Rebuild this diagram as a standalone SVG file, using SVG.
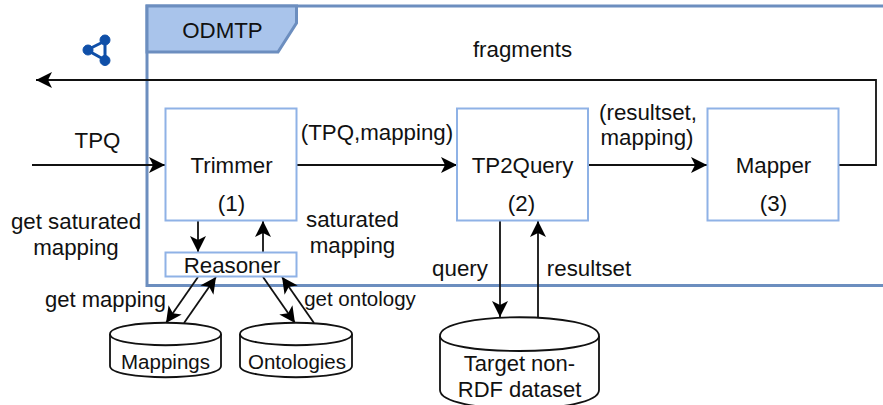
<svg xmlns="http://www.w3.org/2000/svg" width="883" height="405" viewBox="0 0 883 405">
<style>
text{font-family:"Liberation Sans",Arial,sans-serif;font-size:22.300px;fill:#111;text-anchor:middle}
.box{fill:#fff;stroke:#8fb2e6;stroke-width:2}
.db{fill:#fff;stroke:#111;stroke-width:1.800}
.c{fill:none;stroke:#111;stroke-width:1.800}
.small{font-size:20.500px}
.mid{font-size:22px}
</style>
<defs>
<marker id="a" markerUnits="userSpaceOnUse" markerWidth="18" markerHeight="18" refX="16" refY="8" orient="auto">
<path d="M0 0L16 8L0 16L4 8Z" fill="#000"/>
</marker>
</defs>
<g id="odmtp">
<rect x="147" y="6" width="745" height="279.500" fill="#fff" stroke="#6c8ebf" stroke-width="3"/>
<path d="M147 6H296.500V23L278 52H147Z" fill="#a9c4eb" stroke="#6c8ebf" stroke-width="3"/>
<text x="222.500" y="38">ODMTP</text>
</g>
<g id="logo" fill="#0f4fa8" stroke="#0f4fa8">
<path d="M105 41L87 50L105 60Z" fill="none" stroke-width="3"/>
<circle cx="105" cy="40" r="5"/>
<circle cx="88" cy="50" r="5"/>
<circle cx="105" cy="60.500" r="5"/>
</g>
<g id="connectors">
<path class="c" d="M838 165H876V80H36" marker-end="url(#a)"/>
<path class="c" d="M32 165H165" marker-end="url(#a)"/>
<path class="c" d="M296 165H457" marker-end="url(#a)"/>
<path class="c" d="M588 165H707" marker-end="url(#a)"/>
<path class="c" d="M198 221V252" marker-end="url(#a)"/>
<path class="c" d="M263 252V221" marker-end="url(#a)"/>
<path class="c" d="M198 277L166 323" marker-end="url(#a)"/>
<path class="c" d="M184 323L216 277" marker-end="url(#a)"/>
<path class="c" d="M263 277L295 323" marker-end="url(#a)"/>
<path class="c" d="M314 323L282 277" marker-end="url(#a)"/>
<path class="c" d="M500 221V317" marker-end="url(#a)"/>
<path class="c" d="M538 317V221" marker-end="url(#a)"/>
</g>
<g id="trimmer"><rect class="box" x="165.500" y="108.500" width="131" height="112"/><text x="231.500" y="173">Trimmer</text><text x="231.500" y="211">(1)</text></g>
<g id="tp2query"><rect class="box" x="457" y="108.500" width="131" height="112"/><text x="522.500" y="173">TP2Query</text><text x="521.500" y="211">(2)</text></g>
<g id="mapper"><rect class="box" x="707.500" y="108.500" width="131" height="112"/><text x="773.500" y="173">Mapper</text><text x="773.500" y="211">(3)</text></g>
<g id="reasoner"><rect class="box" x="165.500" y="252.500" width="131" height="24"/><text x="232" y="273">Reasoner</text></g>
<g id="mappings">
<path class="db" d="M110 334C110 319 221 319 221 334V366C221 381 110 381 110 366Z"/>
<path class="db" d="M110 334C110 349 221 349 221 334"/>
<text class="small" x="165.500" y="369">Mappings</text>
</g>
<g id="ontologies">
<path class="db" d="M240 334C240 319 352 319 352 334V366C352 381 240 381 240 366Z"/>
<path class="db" d="M240 334C240 349 352 349 352 334"/>
<text class="small" x="297" y="369">Ontologies</text>
</g>
<g id="target">
<path class="db" d="M440 336C440 311 599 311 599 336V390C599 415 440 415 440 390Z"/>
<path class="db" d="M440 336C440 356 599 356 599 336"/>
<text class="mid" x="519.500" y="371">Target non-</text>
<text class="mid" x="519.500" y="397">RDF dataset</text>
</g>
<g id="labels">
<text x="522.500" y="57">fragments</text>
<text x="97.500" y="148">TPQ</text>
<text x="377" y="140">(TPQ,mapping)</text>
<text x="648" y="120">(resultset,</text>
<text x="647" y="145">mapping)</text>
<text x="76" y="229">get saturated</text>
<text x="76" y="255">mapping</text>
<text x="352.500" y="227">saturated</text>
<text x="352.500" y="253">mapping</text>
<text class="mid" x="105.500" y="307">get mapping</text>
<text class="small" x="360" y="306">get ontology</text>
<text x="460" y="276">query</text>
<text x="589" y="276">resultset</text>
</g>
</svg>
